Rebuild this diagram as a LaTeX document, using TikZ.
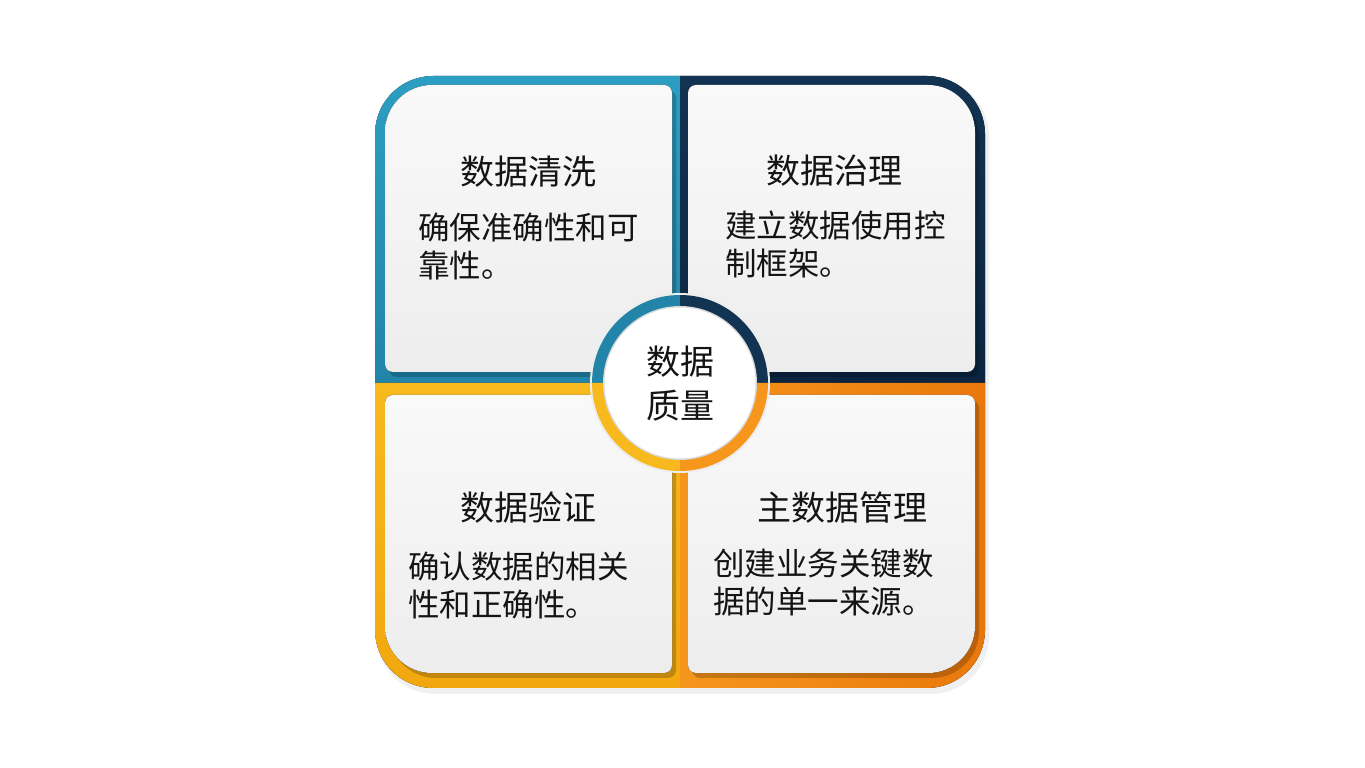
\documentclass[tikz,border=0pt]{standalone}
\usepackage{fontspec}
\setmainfont{Noto Sans CJK SC}
\definecolor{tealA}{HTML}{2C9EC2}
\definecolor{tealB}{HTML}{2284A8}
\definecolor{navyA}{HTML}{133352}
\definecolor{navyB}{HTML}{0B2540}
\definecolor{amberA}{HTML}{F7B91E}
\definecolor{amberB}{HTML}{F2A70E}
\definecolor{orangeA}{HTML}{F6961C}
\definecolor{orangeB}{HTML}{E9780C}
\definecolor{panelA}{HTML}{F9F9F9}
\definecolor{panelB}{HTML}{EDEDED}
\newcommand\panelTL[1]{\fill[#1] (672,404) -- (672,675) arc[start angle=0, end angle=90, radius=8] -- (432,683) arc[start angle=90, end angle=180, radius=47] -- (385,404) arc[start angle=180, end angle=270, radius=8] -- (664,396) arc[start angle=270, end angle=360, radius=8] -- cycle;}
\newcommand\panelTR[1]{\fill[#1] (688,404) -- (688,675) arc[start angle=180, end angle=90, radius=8] -- (928,683) arc[start angle=90, end angle=0, radius=47] -- (975,404) arc[start angle=0, end angle=-90, radius=8] -- (696,396) arc[start angle=270, end angle=180, radius=8] -- cycle;}
\newcommand\panelBL[1]{\fill[#1] (672,365) -- (672,103) arc[start angle=0, end angle=-90, radius=8] -- (432,95) arc[start angle=270, end angle=180, radius=47] -- (385,365) arc[start angle=180, end angle=90, radius=8] -- (664,373) arc[start angle=90, end angle=0, radius=8] -- cycle;}
\newcommand\panelBR[1]{\fill[#1] (688,365) -- (688,103) arc[start angle=180, end angle=270, radius=8] -- (928,95) arc[start angle=270, end angle=360, radius=47] -- (975,365) arc[start angle=0, end angle=90, radius=8] -- (696,373) arc[start angle=90, end angle=180, radius=8] -- cycle;}
\tikzset{
  paneltxt/.style={shading=axis, top color=panelA, bottom color=panelB},
  pshadow/.style={black, opacity=0.2},
  titletxt/.style={inner sep=0pt, font=\fontsize{34}{40}\selectfont, text=black!92},
  bodytxt/.style={inner sep=0pt, anchor=west, align=left, font=\fontsize{31.5}{38}\selectfont, text=black!92},
}
\begin{document}
\begin{tikzpicture}[x=1pt,y=1pt]
\useasboundingbox (0,0) rectangle (1365,768);
\fill[white] (0,0) rectangle (1365,768);
% soft shadow of the square
\fill[black, opacity=0.06, rounded corners=58pt] (377,74) rectangle (989,690);
% quadrant frames
\fill[shading=axis, top color=tealA, bottom color=tealB] (680,385) -- (375,385) -- (375,634) arc[start angle=180, end angle=90, radius=58] -- (680,692) -- cycle;
\fill[shading=axis, top color=navyA, bottom color=navyB] (680,385) -- (985,385) -- (985,634) arc[start angle=0, end angle=90, radius=58] -- (680,692) -- cycle;
\fill[shading=axis, top color=amberA, bottom color=amberB] (680,385) -- (375,385) -- (375,138) arc[start angle=180, end angle=270, radius=58] -- (680,80) -- cycle;
\fill[shading=axis, left color=orangeA, right color=orangeB] (680,385) -- (985,385) -- (985,138) arc[start angle=0, end angle=-90, radius=58] -- (680,80) -- cycle;
% panel shadows
\begin{scope}[shift={(4,-5)}]
\panelTL{pshadow}
\panelTR{pshadow}
\panelBL{pshadow}
\panelBR{pshadow}
\end{scope}
% panels
\panelTL{paneltxt}
\panelTR{paneltxt}
\panelBL{paneltxt}
\panelBR{paneltxt}
% centre ring
\fill[black!7] (680,385) circle[radius=90];
\fill[tealB] (680,385) -- (592,385) arc[start angle=180, end angle=90, radius=88] -- cycle;
\fill[navyA] (680,385) -- (768,385) arc[start angle=0, end angle=90, radius=88] -- cycle;
\fill[amberA] (680,385) -- (592,385) arc[start angle=180, end angle=270, radius=88] -- cycle;
\fill[orangeA] (680,385) -- (768,385) arc[start angle=0, end angle=-90, radius=88] -- cycle;
\fill[black!15] (680,385) circle[radius=77];
\fill[white] (680,385) circle[radius=75.5];
% texts
\node[titletxt] (cq) at (680,406) {数据};
\node[titletxt] (cq2) at (680,362) {质量};
\node[titletxt] (t1) at (528,596) {数据清洗};
\node[bodytxt] (b1) at (418,522) {确保准确性和可\\靠性。};
\node[titletxt] (t2) at (834,597) {数据治理};
\node[bodytxt] (b2) at (725,524) {建立数据使用控\\制框架。};
\node[titletxt] (t3) at (528,260) {数据验证};
\node[bodytxt] (b3) at (408,183) {确认数据的相关\\性和正确性。};
\node[titletxt] (t4) at (842,260) {主数据管理};
\node[bodytxt] (b4) at (713,185) {创建业务关键数\\据的单一来源。};
\end{tikzpicture}
\end{document}
